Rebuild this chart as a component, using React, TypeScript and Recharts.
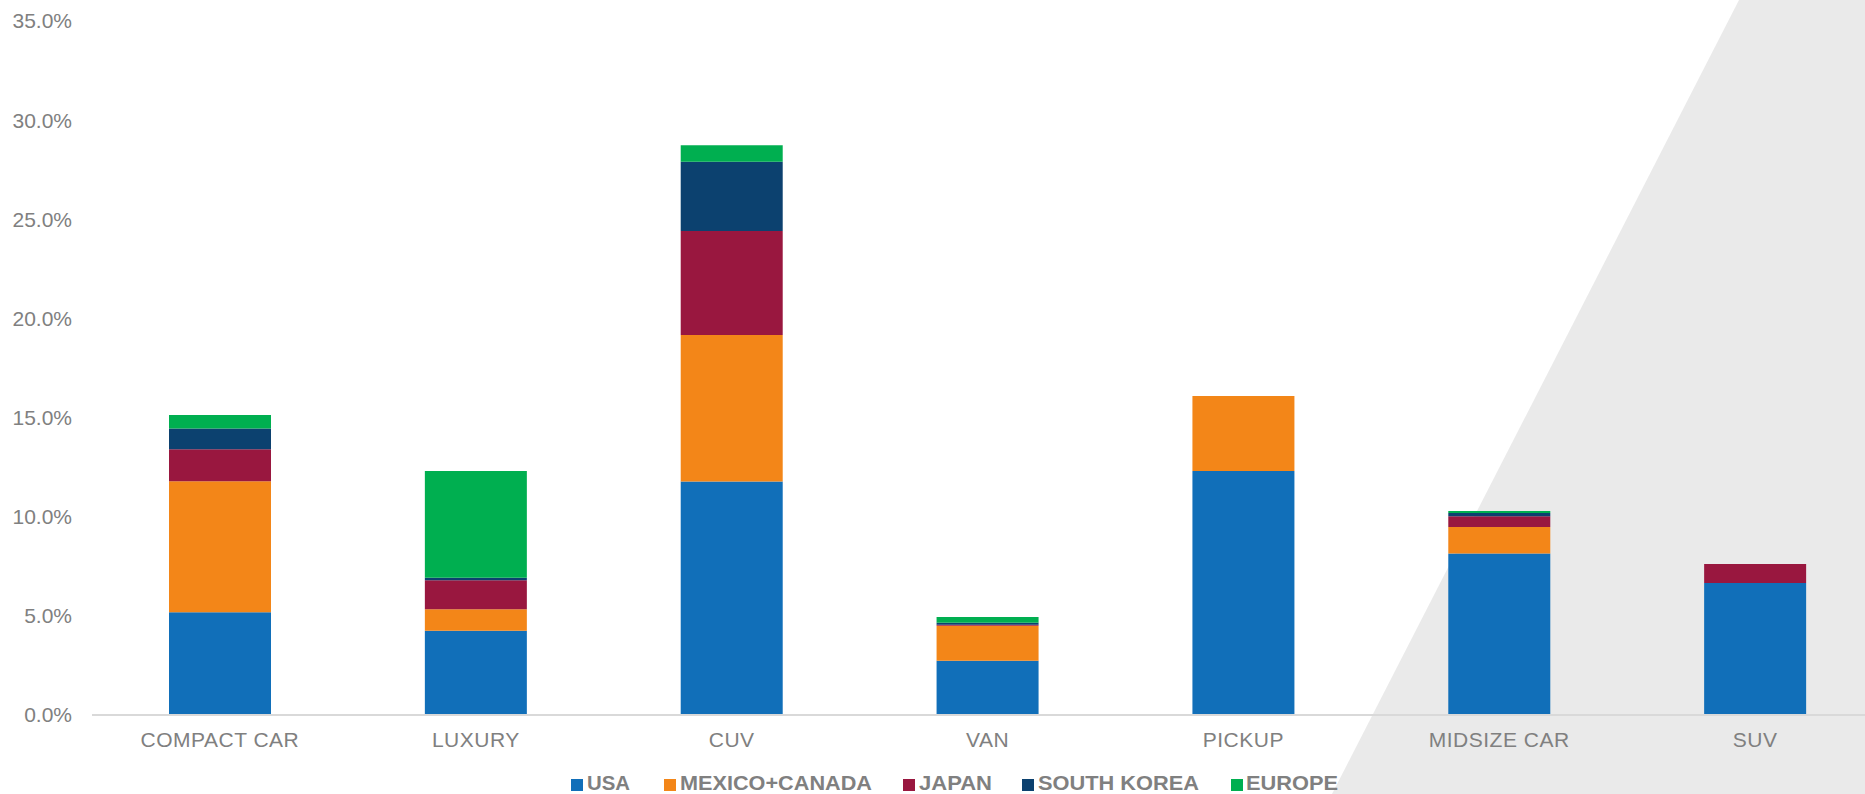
import { Bar, BarChart, Legend, XAxis, YAxis } from 'recharts'

const categories = ['COMPACT CAR', 'LUXURY', 'CUV', 'VAN', 'PICKUP', 'MIDSIZE CAR', 'SUV']
const usa          = [5.18, 4.25, 11.77, 2.74, 12.3, 8.15, 6.66]
const mexicoCanada = [6.61, 1.08, 7.39, 1.76, 3.79, 1.33, 0]
const japan        = [1.61, 1.46, 5.25, 0.05, 0, 0.54, 0.95]
const southKorea   = [1.05, 0.13, 3.49, 0.1, 0, 0.17, 0]
const europe       = [0.68, 5.38, 0.83, 0.29, 0, 0.1, 0]
const yTicks = [0, 5, 10, 15, 20, 25, 30, 35]

const series = [
  { key: 'usa',          name: 'USA',           color: '#116FB9', values: usa },
  { key: 'mexicoCanada', name: 'MEXICO+CANADA', color: '#F38618', values: mexicoCanada },
  { key: 'japan',        name: 'JAPAN',         color: '#99173F', values: japan },
  { key: 'southKorea',   name: 'SOUTH KOREA',   color: '#0C416F', values: southKorea },
  { key: 'europe',       name: 'EUROPE',        color: '#00AF50', values: europe },
]

const rows = categories.map((name, i) => {
  const row: Record<string, string | number> = { name }
  series.forEach((s) => { row[s.key] = s.values[i] })
  return row
})

const FONT = '"Liberation Sans", Arial, sans-serif'
const GREY = '#808080'

// legend slots by series name: [square x, text x, text width]
const legendSlots: Record<string, [number, number, number]> = {
  'USA':           [571, 587, 43],
  'MEXICO+CANADA': [664, 680, 192],
  'JAPAN':         [903, 919, 73],
  'SOUTH KOREA':   [1022, 1038, 161],
  'EUROPE':        [1231, 1246, 92],
}

function renderLegend() {
  return (
    <svg width={1865} height={28} style={{ display: 'block' }}>
      {series.map((s) => {
        const slot = legendSlots[s.name]
        return (
          <g key={s.key}>
            <rect x={slot[0]} y={13} width={12} height={12} fill={s.color} />
            <text
              x={slot[1]}
              y={24}
              textLength={slot[2]}
              lengthAdjust="spacingAndGlyphs"
              fontFamily={FONT}
              fontWeight="bold"
              fontSize={21}
              fill={GREY}
            >
              {s.name}
            </text>
          </g>
        )
      })}
    </svg>
  )
}

export default function App() {
  return (
    <div style={{ position: 'absolute', left: 0, top: 0, width: 1865, height: 794, overflow: 'hidden', background: '#fff' }}>
      <svg width={1865} height={794} style={{ position: 'absolute', left: 0, top: 0 }}>
        <polygon points="1739,0 1865,0 1865,794 1332,794" fill="#EAEAEA" />
      </svg>
      <div style={{ position: 'absolute', left: 0, top: 0 }}>
        <BarChart
          width={1883}
          height={794}
          data={rows}
          margin={{ top: 21, right: 0, bottom: 1, left: 0 }}
          barSize={102}
        >
          <XAxis
            dataKey="name"
            height={50}
            tickLine={false}
            tickSize={0}
            tickMargin={17}
            axisLine={{ stroke: '#D9D9D9', strokeWidth: 2 }}
            tick={{ fill: GREY, fontSize: 21, fontFamily: FONT, letterSpacing: 0.5 }}
            interval={0}
          />
          <YAxis
            width={92}
            domain={[0, 35]}
            ticks={yTicks}
            interval={0}
            axisLine={false}
            tickLine={false}
            tickSize={0}
            tickMargin={20}
            tickFormatter={(v: number) => `${v.toFixed(1)}%`}
            tick={{ fill: GREY, fontSize: 21, fontFamily: FONT }}
          />
          <Legend
            verticalAlign="bottom"
            content={renderLegend}
            wrapperStyle={{ position: 'absolute', left: 0, top: 766, width: 1865, height: 28 }}
          />
          {series.map((s) => (
            <Bar key={s.key} dataKey={s.key} name={s.name} stackId="a" fill={s.color} isAnimationActive={false} />
          ))}
        </BarChart>
      </div>
    </div>
  )
}
